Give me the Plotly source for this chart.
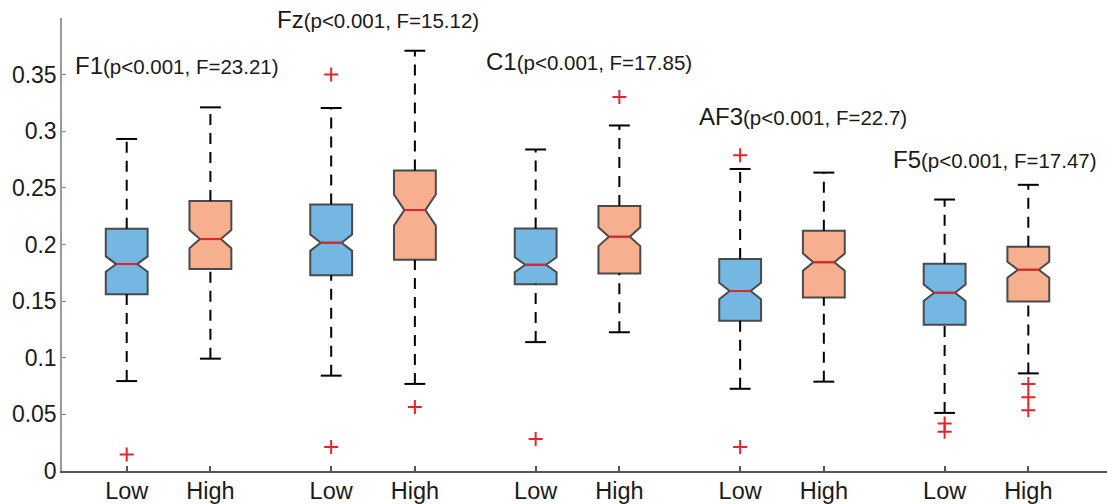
import plotly.graph_objects as go

# ---- data ----
channels = ["F1", "Fz", "C1", "AF3", "F5"]
stats_text = ["(p<0.001, F=23.21)", "(p<0.001, F=15.12)", "(p<0.001, F=17.85)",
              "(p<0.001, F=22.7)", "(p<0.001, F=17.47)"]
groups = ["Low", "High"]

low_q1 = [0.1560, 0.1728, 0.1650, 0.1327, 0.1292]
low_med = [0.1827, 0.2016, 0.1821, 0.1589, 0.1574]
low_q3 = [0.2138, 0.2353, 0.2141, 0.1873, 0.1830]
low_notch = [0.0068, 0.0072, 0.0066, 0.0073, 0.0072]
low_lo = [0.0794, 0.0842, 0.1138, 0.0726, 0.0513]
low_hi = [0.2932, 0.3205, 0.2839, 0.2667, 0.2397]
low_out = [[0.0146], [0.3501, 0.0211], [0.0283], [0.2789, 0.0211], [0.0420, 0.0347]]

high_q1 = [0.1783, 0.1865, 0.1743, 0.1533, 0.1496]
high_med = [0.2048, 0.2304, 0.2069, 0.1844, 0.1777]
high_q3 = [0.2385, 0.2653, 0.2339, 0.2121, 0.1981]
high_notch = [0.0080, 0.0137, 0.0083, 0.0076, 0.0070]
high_lo = [0.0992, 0.0769, 0.1225, 0.0789, 0.0862]
high_hi = [0.3211, 0.3711, 0.3051, 0.2635, 0.2527]
high_out = [[], [0.0565], [0.3303], [], [0.0769, 0.0652, 0.0536]]

y_ticks = [0, 0.05, 0.1, 0.15, 0.2, 0.25, 0.3, 0.35]

# ---- layout constants ----
GROUP_GAP = 2.443
BOX_W = 0.5
CAP_HALF = 0.125
MED_HALF = 0.125
label_dx = [-0.64, -0.67, -0.62, -0.51, -0.64]
label_y = [0.358, 0.399, 0.3615, 0.3134, 0.2751]

BLUE = "#74b7e3"
SALMON = "#f6af8f"
EDGE = "#4a4a4a"
RED = "#e3262d"
FONT = "Liberation Sans, Arial, sans-serif"

fig = go.Figure()

series = [
    (0.0, BLUE, low_q1, low_med, low_q3, low_notch, low_lo, low_hi, low_out),
    (1.0, SALMON, high_q1, high_med, high_q3, high_notch, high_lo, high_hi, high_out),
]

tickvals, ticktext = [], []
for k in range(len(channels)):
    for off, name in zip([0.0, 1.0], groups):
        tickvals.append(k * GROUP_GAP + off)
        ticktext.append(name)

for off, color, q1, med, q3, notch, lo, hi, outs in series:
    pos = [k * GROUP_GAP + off for k in range(len(channels))]
    # whiskers (dashed)
    wx, wy = [], []
    for p, a, b, c, d in zip(pos, lo, q1, q3, hi):
        wx += [p, p, None, p, p, None]
        wy += [a, b, None, c, d, None]
    fig.add_trace(go.Scatter(x=wx, y=wy, mode="lines",
                             line=dict(color="black", width=2, dash="11px,8px"),
                             hoverinfo="skip", showlegend=False))
    # caps
    cx, cy = [], []
    for p, a, d in zip(pos, lo, hi):
        cx += [p - CAP_HALF, p + CAP_HALF, None, p - CAP_HALF, p + CAP_HALF, None]
        cy += [a, a, None, d, d, None]
    fig.add_trace(go.Scatter(x=cx, y=cy, mode="lines",
                             line=dict(color="black", width=2),
                             hoverinfo="skip", showlegend=False))
    # notched boxes
    fig.add_trace(go.Box(x=pos, q1=q1, median=med, q3=q3,
                         lowerfence=q1, upperfence=q3, notchspan=notch,
                         notched=True, notchwidth=0.25, whiskerwidth=0,
                         width=BOX_W, fillcolor=color,
                         line=dict(color=EDGE, width=2),
                         boxpoints=False, showlegend=False))
    # red medians
    mx, my = [], []
    for p, m in zip(pos, med):
        mx += [p - MED_HALF, p + MED_HALF, None]
        my += [m, m, None]
    fig.add_trace(go.Scatter(x=mx, y=my, mode="lines",
                             line=dict(color=RED, width=2),
                             hoverinfo="skip", showlegend=False))
    # outliers
    ox, oy = [], []
    for p, o in zip(pos, outs):
        for v in o:
            ox.append(p)
            oy.append(v)
    fig.add_trace(go.Scatter(x=ox, y=oy, mode="markers",
                             marker=dict(symbol="cross-thin", size=10,
                                         line=dict(color=RED, width=2)),
                             hoverinfo="skip", showlegend=False))

for k, (ch, st) in enumerate(zip(channels, stats_text)):
    fig.add_annotation(
        x=k * GROUP_GAP + label_dx[k], y=label_y[k], xref="x", yref="y",
        xanchor="left", yanchor="middle", showarrow=False,
        text=f"<span style='font-size:24px'>{ch}</span>"
             f"<span style='font-size:20.5px'>{st.replace('<', '&lt;')}</span>",
        font=dict(family=FONT, color="#1a1a1a"))

fig.update_layout(
    width=1107, height=504,
    margin=dict(l=62, r=0, t=18, b=27),
    paper_bgcolor="white", plot_bgcolor="white",
    font=dict(family=FONT, color="#1a1a1a"),
    showlegend=False,
)
fig.update_xaxes(range=[-0.773, 11.712], tickvals=tickvals, ticktext=ticktext,
                 showgrid=False, zeroline=False, showline=True,
                 linecolor="#555555", linewidth=1.5,
                 ticks="inside", ticklen=5, tickcolor="#555555", tickwidth=1.5,
                 ticklabelstandoff=-2,
                 tickfont=dict(size=23.5, family=FONT, color="#1a1a1a"))
fig.update_yaxes(range=[0, 0.4], tickvals=y_ticks,
                 ticktext=[("%g" % v) for v in y_ticks],
                 showgrid=False, zeroline=False, showline=True,
                 linecolor="#999999", linewidth=1.5,
                 ticks="inside", ticklen=4, tickcolor="#888888", tickwidth=1,
                 ticklabelstandoff=-1,
                 tickfont=dict(size=23, family=FONT, color="#1a1a1a"))

fig.write_html("out.html")
